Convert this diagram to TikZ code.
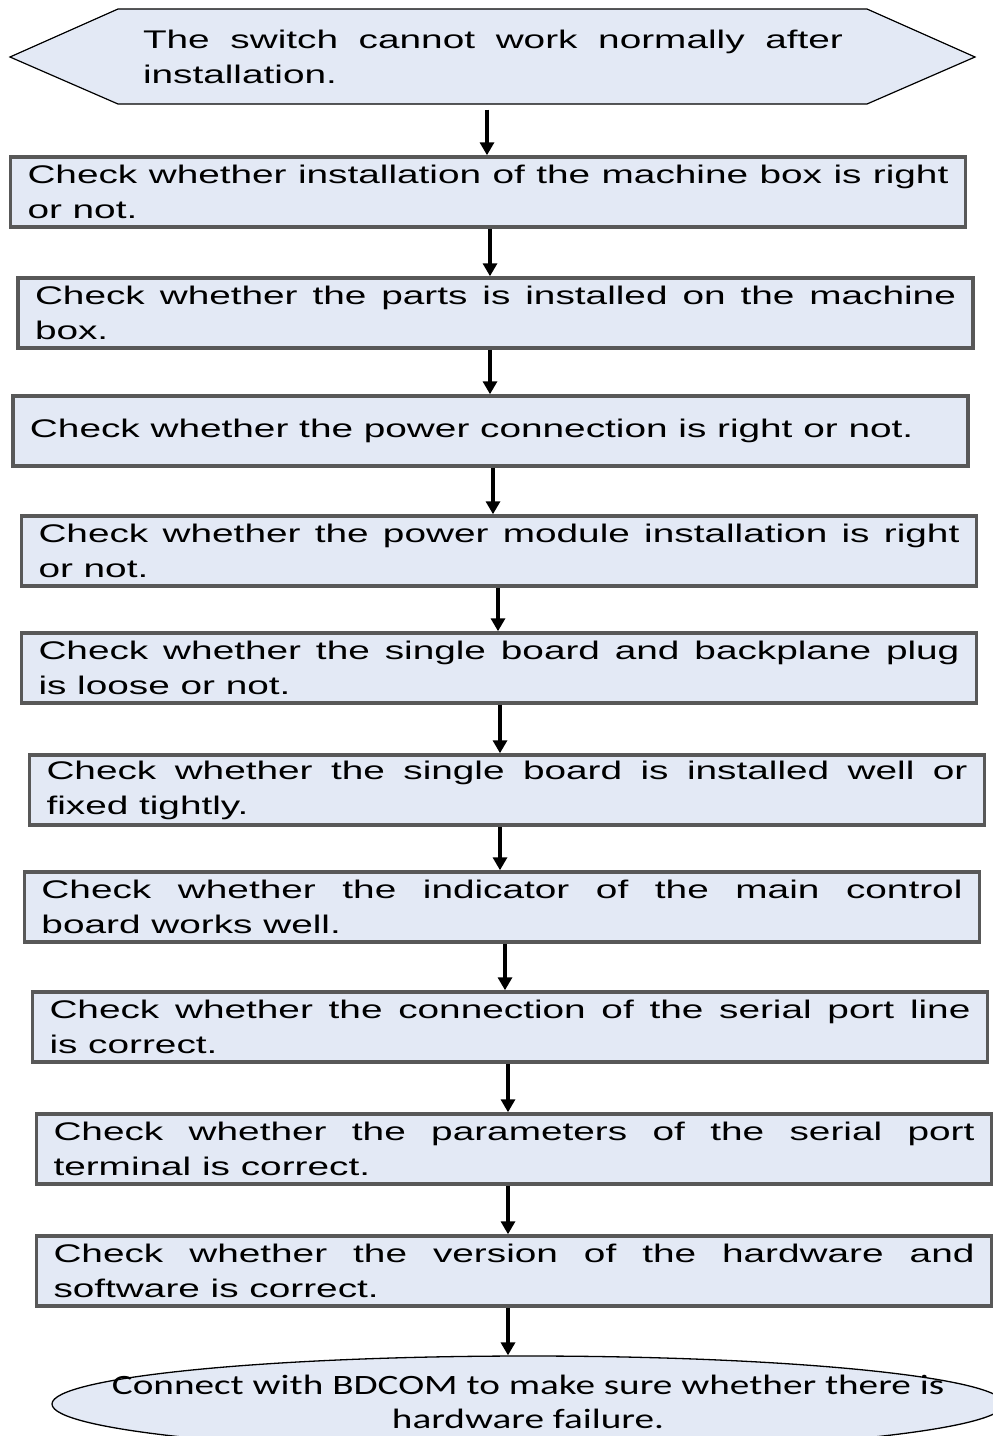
\documentclass[tikz,border=0pt]{standalone}
\usepackage{fontspec}
\setmainfont[FakeStretch=1.52]{Liberation Sans}
\newfontfamily\endfont[FakeStretch=1.40]{Carlito}
\usetikzlibrary{positioning,shapes.geometric,arrows.meta}
\definecolor{boxfill}{RGB}{227,233,245}
\definecolor{boxedge}{RGB}{88,88,88}

\begin{document}
\begin{tikzpicture}[x=1pt,y=-1pt,>={Triangle[width=14pt,length=13pt]},
        font=\fontsize{25.5}{35}\selectfont,
        check/.style={draw=boxedge,line width=3.5pt,fill=boxfill,
            minimum width=955pt,minimum height=70pt,inner sep=0pt,
            text width=921pt,align=justify},
        flow/.style={->,line width=3.5pt}]
    \useasboundingbox (0,0) rectangle (993,1436);
    \clip (0,0) rectangle (993,1436);
    % start
    \draw[fill=boxfill,line width=1.2pt] (10,57)--(118,9)--(867,9)--(975,57)--(867,104)--(118,104)--cycle;
    \node[minimum height=95pt,inner sep=0pt,text width=700pt,align=justify] (start) at (493,57)
        {The switch cannot work normally after\linebreak installation.};
    % checks
    \node[check] (c1) at (488,192) {Check whether installation of the machine box is right\linebreak or not.};
    \node[check] (c2) at (495.5,313) {Check whether the parts is installed on the machine\linebreak box.};
    \node[check] (c3) at (490.5,431) {Check whether the power connection is right or not.};
    \node[check] (c4) at (499,551) {Check whether the power module installation is right\linebreak or not.};
    \node[check] (c5) at (499,668) {Check whether the single board and backplane plug\linebreak is loose or not.};
    \node[check] (c6) at (507,790) {Check whether the single board is installed well or\linebreak fixed tightly.};
    \node[check] (c7) at (502,907) {Check whether the indicator of the main control\linebreak board works well.};
    \node[check] (c8) at (510,1027) {Check whether the connection of the serial port line\linebreak is correct.};
    \node[check] (c9) at (514,1149) {Check whether the parameters of the serial port\linebreak terminal is correct.};
    \node[check] (c10) at (514,1271) {Check whether the version of the hardware and\linebreak software is correct.};
    % end
    \node[ellipse,draw,fill=boxfill,line width=1.3pt,minimum width=952pt,minimum height=96pt,inner sep=0pt] (finish) at (528,1404) {};
    \node[font=\endfont\fontsize{28}{34}\selectfont,align=center] (finishtext) at (528,1402)
        {Connect with BDCOM to make sure whether there is\\hardware failure.};
    % arrows
    \draw[flow,shorten <=5pt] (start.south -| 487,0) -- (c1.north -| 487,0);
    \foreach \a/\b/\x in {c1/c2/490,c2/c3/490,c3/c4/493,c4/c5/498,c5/c6/500,c6/c7/500,c7/c8/505,c8/c9/508,c9/c10/508,c10/finish/508}
    {
        \draw[flow] (\a.south -| \x,0) -- (\b.north -| \x,0);
    }
\end{tikzpicture}
\end{document}
